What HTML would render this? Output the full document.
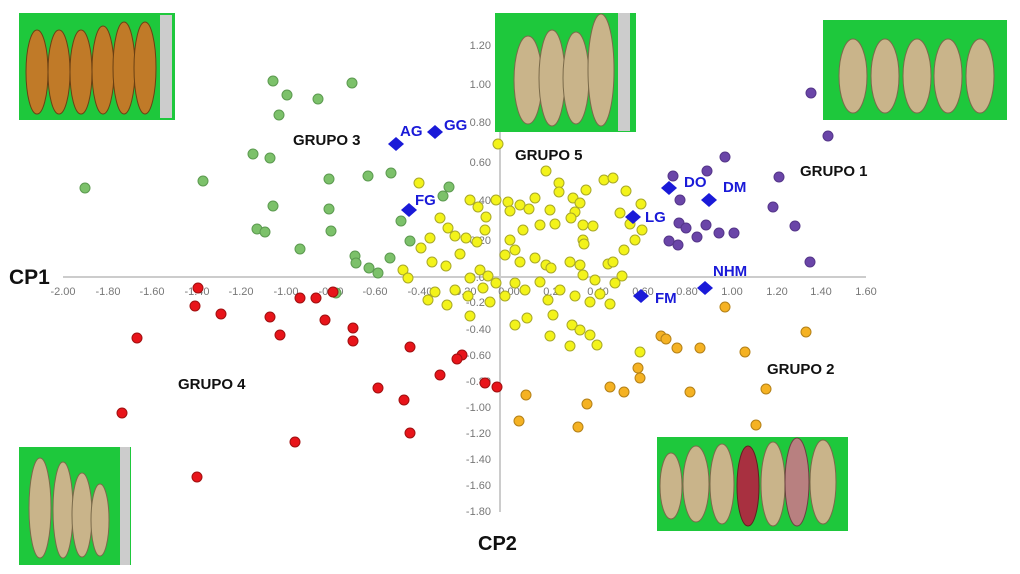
<!DOCTYPE html>
<html><head><meta charset="utf-8"><style>
html,body{margin:0;padding:0;background:#fff;}
svg{display:block;font-family:"Liberation Sans",Arial,sans-serif;}
.t{font-size:11px;fill:#777;}
.g{font-size:15px;font-weight:bold;fill:#111;}
.b{font-size:15px;font-weight:bold;fill:#1a1ad8;}
.gr circle{fill:#7cc16a;stroke:#5c9a50;stroke-width:1}
.rd circle{fill:#e8141a;stroke:#a01010;stroke-width:1}
.pu circle{fill:#6a45a8;stroke:#55368a;stroke-width:1}
.or circle{fill:#f5b223;stroke:#b38018;stroke-width:1}
.ye circle{fill:#f3f31a;stroke:#a8a828;stroke-width:1}
.cob{fill:#c9b48a;stroke:#7a6a4a;stroke-width:1}
</style></head><body>
<svg width="1020" height="574" viewBox="0 0 1020 574">
<rect width="1020" height="574" fill="#fff"/>
<line x1="63" y1="277" x2="866" y2="277" stroke="#ccc" stroke-width="2"/>
<line x1="500" y1="30" x2="500" y2="512" stroke="#ccc" stroke-width="2"/>
<g class="t" text-anchor="middle">
<text x="63" y="295">-2.00</text><text x="108" y="295">-1.80</text><text x="152" y="295">-1.60</text><text x="197" y="295">-1.40</text><text x="241" y="295">-1.20</text><text x="286" y="295">-1.00</text><text x="331" y="295">-0.80</text><text x="375" y="295">-0.60</text><text x="420" y="295">-0.40</text><text x="464" y="295">-0.20</text><text x="509" y="295">0.00</text><text x="554" y="295">0.20</text><text x="598" y="295">0.40</text><text x="643" y="295">0.60</text><text x="687" y="295">0.80</text><text x="732" y="295">1.00</text><text x="777" y="295">1.20</text><text x="821" y="295">1.40</text><text x="866" y="295">1.60</text>
</g>
<g class="t" text-anchor="end">
<text x="491" y="49">1.20</text><text x="491" y="88">1.00</text><text x="491" y="126">0.80</text><text x="491" y="166">0.60</text><text x="491" y="204">0.40</text><text x="491" y="244">0.20</text><text x="491" y="281">0.00</text>
<text x="491" y="306">-0.20</text><text x="491" y="333">-0.40</text><text x="491" y="359">-0.60</text><text x="491" y="385">-0.80</text><text x="491" y="411">-1.00</text><text x="491" y="437">-1.20</text><text x="491" y="463">-1.40</text><text x="491" y="489">-1.60</text><text x="491" y="515">-1.80</text>
</g>
<g>
<rect x="19" y="13" width="156" height="107" fill="#1ec83c"/>
<g fill="#c07a28" stroke="#6a4014"><ellipse cx="37" cy="72" rx="11" ry="42"/><ellipse cx="59" cy="72" rx="11" ry="42"/><ellipse cx="81" cy="72" rx="11" ry="42"/><ellipse cx="103" cy="70" rx="11" ry="44"/><ellipse cx="124" cy="68" rx="11" ry="46"/><ellipse cx="145" cy="68" rx="11" ry="46"/></g>
<rect x="160" y="15" width="12" height="103" fill="#ccc"/>
<rect x="495" y="13" width="141" height="119" fill="#1ec83c"/>
<g class="cob"><ellipse cx="528" cy="80" rx="14" ry="44"/><ellipse cx="552" cy="78" rx="13" ry="48"/><ellipse cx="576" cy="78" rx="13" ry="46"/><ellipse cx="601" cy="70" rx="13" ry="56"/></g>
<rect x="618" y="13" width="12" height="118" fill="#ccc"/>
<rect x="823" y="20" width="184" height="100" fill="#1ec83c"/>
<g class="cob"><ellipse cx="853" cy="76" rx="14" ry="37"/><ellipse cx="885" cy="76" rx="14" ry="37"/><ellipse cx="917" cy="76" rx="14" ry="37"/><ellipse cx="948" cy="76" rx="14" ry="37"/><ellipse cx="980" cy="76" rx="14" ry="37"/></g>
<rect x="19" y="447" width="112" height="118" fill="#1ec83c"/>
<g class="cob"><ellipse cx="40" cy="508" rx="11" ry="50"/><ellipse cx="63" cy="510" rx="10" ry="48"/><ellipse cx="82" cy="515" rx="10" ry="42"/><ellipse cx="100" cy="520" rx="9" ry="36"/></g>
<rect x="120" y="447" width="10" height="118" fill="#ccc"/>
<rect x="657" y="437" width="191" height="94" fill="#1ec83c"/>
<g class="cob"><ellipse cx="671" cy="486" rx="11" ry="33"/><ellipse cx="696" cy="484" rx="13" ry="38"/><ellipse cx="722" cy="484" rx="12" ry="40"/><ellipse cx="773" cy="484" rx="12" ry="42"/><ellipse cx="823" cy="482" rx="13" ry="42"/></g>
<ellipse cx="748" cy="486" rx="11" ry="40" fill="#a83040" stroke="#602020"/>
<ellipse cx="797" cy="482" rx="12" ry="44" fill="#b88080" stroke="#6a4040"/>
</g>
<g class="gr">
<circle cx="85" cy="188" r="5"/><circle cx="273" cy="81" r="5"/><circle cx="352" cy="83" r="5"/><circle cx="287" cy="95" r="5"/><circle cx="318" cy="99" r="5"/><circle cx="279" cy="115" r="5"/><circle cx="253" cy="154" r="5"/><circle cx="270" cy="158" r="5"/><circle cx="203" cy="181" r="5"/><circle cx="329" cy="179" r="5"/><circle cx="368" cy="176" r="5"/><circle cx="391" cy="173" r="5"/><circle cx="449" cy="187" r="5"/><circle cx="443" cy="196" r="5"/><circle cx="273" cy="206" r="5"/><circle cx="329" cy="209" r="5"/><circle cx="257" cy="229" r="5"/><circle cx="265" cy="232" r="5"/><circle cx="331" cy="231" r="5"/><circle cx="300" cy="249" r="5"/><circle cx="355" cy="256" r="5"/><circle cx="356" cy="263" r="5"/><circle cx="369" cy="268" r="5"/><circle cx="378" cy="273" r="5"/><circle cx="410" cy="241" r="5"/><circle cx="401" cy="221" r="5"/><circle cx="390" cy="258" r="5"/><circle cx="336" cy="293" r="5"/>
</g>
<g class="rd">
<circle cx="198" cy="288" r="5"/><circle cx="195" cy="306" r="5"/><circle cx="221" cy="314" r="5"/><circle cx="270" cy="317" r="5"/><circle cx="300" cy="298" r="5"/><circle cx="316" cy="298" r="5"/><circle cx="333" cy="292" r="5"/><circle cx="280" cy="335" r="5"/><circle cx="325" cy="320" r="5"/><circle cx="353" cy="328" r="5"/><circle cx="353" cy="341" r="5"/><circle cx="137" cy="338" r="5"/><circle cx="410" cy="347" r="5"/><circle cx="462" cy="355" r="5"/><circle cx="457" cy="359" r="5"/><circle cx="440" cy="375" r="5"/><circle cx="378" cy="388" r="5"/><circle cx="404" cy="400" r="5"/><circle cx="485" cy="383" r="5"/><circle cx="497" cy="387" r="5"/><circle cx="122" cy="413" r="5"/><circle cx="410" cy="433" r="5"/><circle cx="295" cy="442" r="5"/><circle cx="197" cy="477" r="5"/>
</g>
<g class="pu">
<circle cx="811" cy="93" r="5"/><circle cx="828" cy="136" r="5"/><circle cx="725" cy="157" r="5"/><circle cx="707" cy="171" r="5"/><circle cx="673" cy="176" r="5"/><circle cx="779" cy="177" r="5"/><circle cx="680" cy="200" r="5"/><circle cx="773" cy="207" r="5"/><circle cx="679" cy="223" r="5"/><circle cx="706" cy="225" r="5"/><circle cx="686" cy="228" r="5"/><circle cx="697" cy="237" r="5"/><circle cx="719" cy="233" r="5"/><circle cx="734" cy="233" r="5"/><circle cx="795" cy="226" r="5"/><circle cx="669" cy="241" r="5"/><circle cx="678" cy="245" r="5"/><circle cx="810" cy="262" r="5"/>
</g>
<g class="or">
<circle cx="725" cy="307" r="5"/><circle cx="806" cy="332" r="5"/><circle cx="661" cy="336" r="5"/><circle cx="666" cy="339" r="5"/><circle cx="677" cy="348" r="5"/><circle cx="700" cy="348" r="5"/><circle cx="745" cy="352" r="5"/><circle cx="638" cy="368" r="5"/><circle cx="640" cy="378" r="5"/><circle cx="610" cy="387" r="5"/><circle cx="624" cy="392" r="5"/><circle cx="690" cy="392" r="5"/><circle cx="766" cy="389" r="5"/><circle cx="587" cy="404" r="5"/><circle cx="526" cy="395" r="5"/><circle cx="519" cy="421" r="5"/><circle cx="578" cy="427" r="5"/><circle cx="756" cy="425" r="5"/>
</g>
<g class="ye">
<circle cx="498" cy="144" r="5"/><circle cx="546" cy="171" r="5"/><circle cx="559" cy="183" r="5"/><circle cx="559" cy="192" r="5"/><circle cx="604" cy="180" r="5"/><circle cx="613" cy="178" r="5"/><circle cx="626" cy="191" r="5"/><circle cx="586" cy="190" r="5"/><circle cx="573" cy="198" r="5"/><circle cx="580" cy="203" r="5"/><circle cx="575" cy="212" r="5"/><circle cx="641" cy="204" r="5"/><circle cx="620" cy="213" r="5"/><circle cx="496" cy="200" r="5"/><circle cx="508" cy="202" r="5"/><circle cx="520" cy="205" r="5"/><circle cx="529" cy="209" r="5"/><circle cx="535" cy="198" r="5"/><circle cx="550" cy="210" r="5"/><circle cx="510" cy="211" r="5"/><circle cx="486" cy="217" r="5"/><circle cx="540" cy="225" r="5"/><circle cx="555" cy="224" r="5"/><circle cx="571" cy="218" r="5"/><circle cx="583" cy="225" r="5"/><circle cx="593" cy="226" r="5"/><circle cx="630" cy="224" r="5"/><circle cx="642" cy="230" r="5"/><circle cx="635" cy="240" r="5"/><circle cx="624" cy="250" r="5"/><circle cx="583" cy="240" r="5"/><circle cx="584" cy="244" r="5"/><circle cx="470" cy="200" r="5"/><circle cx="478" cy="207" r="5"/><circle cx="440" cy="218" r="5"/><circle cx="448" cy="228" r="5"/><circle cx="455" cy="236" r="5"/><circle cx="466" cy="238" r="5"/><circle cx="485" cy="230" r="5"/><circle cx="477" cy="242" r="5"/><circle cx="510" cy="240" r="5"/><circle cx="515" cy="250" r="5"/><circle cx="520" cy="262" r="5"/><circle cx="535" cy="258" r="5"/><circle cx="546" cy="265" r="5"/><circle cx="551" cy="268" r="5"/><circle cx="570" cy="262" r="5"/><circle cx="580" cy="265" r="5"/><circle cx="583" cy="275" r="5"/><circle cx="595" cy="280" r="5"/><circle cx="608" cy="264" r="5"/><circle cx="613" cy="262" r="5"/><circle cx="615" cy="283" r="5"/><circle cx="622" cy="276" r="5"/><circle cx="430" cy="238" r="5"/><circle cx="421" cy="248" r="5"/><circle cx="432" cy="262" r="5"/><circle cx="403" cy="270" r="5"/><circle cx="408" cy="278" r="5"/><circle cx="446" cy="266" r="5"/><circle cx="460" cy="254" r="5"/><circle cx="470" cy="278" r="5"/><circle cx="480" cy="270" r="5"/><circle cx="488" cy="276" r="5"/><circle cx="496" cy="283" r="5"/><circle cx="483" cy="288" r="5"/><circle cx="468" cy="296" r="5"/><circle cx="455" cy="290" r="5"/><circle cx="435" cy="292" r="5"/><circle cx="428" cy="300" r="5"/><circle cx="447" cy="305" r="5"/><circle cx="470" cy="316" r="5"/><circle cx="490" cy="302" r="5"/><circle cx="505" cy="296" r="5"/><circle cx="515" cy="283" r="5"/><circle cx="525" cy="290" r="5"/><circle cx="540" cy="282" r="5"/><circle cx="548" cy="300" r="5"/><circle cx="560" cy="290" r="5"/><circle cx="575" cy="296" r="5"/><circle cx="590" cy="302" r="5"/><circle cx="600" cy="294" r="5"/><circle cx="610" cy="304" r="5"/><circle cx="553" cy="315" r="5"/><circle cx="572" cy="325" r="5"/><circle cx="580" cy="330" r="5"/><circle cx="590" cy="335" r="5"/><circle cx="550" cy="336" r="5"/><circle cx="570" cy="346" r="5"/><circle cx="597" cy="345" r="5"/><circle cx="527" cy="318" r="5"/><circle cx="515" cy="325" r="5"/><circle cx="640" cy="352" r="5"/><circle cx="419" cy="183" r="5"/><circle cx="523" cy="230" r="5"/><circle cx="505" cy="255" r="5"/>
</g>
<g fill="#1a1ad8">
<polygon points="396,137 404,144 396,151 388,144"/><polygon points="435,125 443,132 435,139 427,132"/><polygon points="409,203 417,210 409,217 401,210"/><polygon points="669,181 677,188 669,195 661,188"/><polygon points="709,193 717,200 709,207 701,200"/><polygon points="633,210 641,217 633,224 625,217"/><polygon points="705,281 713,288 705,295 697,288"/><polygon points="641,289 649,296 641,303 633,296"/>
</g>
<g class="b">
<text x="400" y="136">AG</text><text x="444" y="130">GG</text><text x="415" y="205">FG</text><text x="684" y="187">DO</text><text x="723" y="192">DM</text><text x="645" y="222">LG</text><text x="713" y="276">NHM</text><text x="655" y="303">FM</text>
</g>
<g class="g">
<text x="293" y="145">GRUPO 3</text><text x="515" y="160">GRUPO 5</text><text x="800" y="176">GRUPO 1</text><text x="767" y="374">GRUPO 2</text><text x="178" y="389">GRUPO 4</text>
</g>
<text x="9" y="284" font-size="21" font-weight="bold" fill="#111">CP1</text>
<text x="478" y="550" font-size="20" font-weight="bold" fill="#111">CP2</text>
</svg>
</body></html>
